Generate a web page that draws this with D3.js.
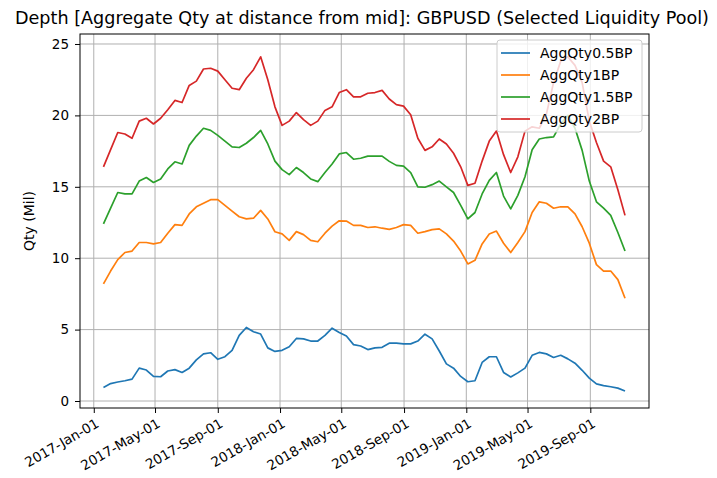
<!DOCTYPE html>
<html>
<head>
<meta charset="utf-8">
<script src="https://cdn.jsdelivr.net/npm/d3@7"></script>
<style>
  body { margin: 0; background: #fff; }
  text { font-family: "DejaVu Sans", sans-serif; fill: #000; }
</style>
</head>
<body>
<div id="chart"></div>
<script>
// samples every 2 weeks, first sample date
var startDate = new Date(2017, 0, 20);
var stepDays = 14;

var seriesNames = ["AggQty0.5BP", "AggQty1BP", "AggQty1.5BP", "AggQty2BP"];
var colors = ["#1f77b4", "#ff7f0e", "#2ca02c", "#d62728"];

var qty05 = [0.95,1.22,1.33,1.42,1.53,2.3,2.17,1.72,1.7,2.1,2.2,2.0,2.3,2.88,3.3,3.38,2.92,3.1,3.55,4.6,
  5.15,4.85,4.69,3.72,3.47,3.55,3.8,4.38,4.35,4.2,4.2,4.6,5.1,4.8,4.55,3.95,3.85,3.6,3.72,3.76,
  4.05,4.05,4.0,4.0,4.2,4.68,4.35,3.5,2.6,2.3,1.72,1.35,1.42,2.7,3.1,3.1,2.0,1.68,1.97,2.3,
  3.2,3.4,3.3,3.05,3.2,2.95,2.65,2.15,1.6,1.2,1.08,1.0,0.9,0.7];

var qty1 = [8.2,9.1,9.9,10.4,10.5,11.1,11.1,11.0,11.1,11.75,12.35,12.3,13.1,13.6,13.85,14.1,14.1,13.7,13.3,12.9,
  12.75,12.8,13.35,12.75,11.85,11.7,11.25,11.86,11.65,11.25,11.15,11.75,12.25,12.62,12.6,12.3,12.3,12.15,12.2,12.1,
  12.02,12.15,12.35,12.3,11.75,11.86,12.0,12.05,11.7,11.2,10.5,9.6,9.85,11.0,11.7,11.9,11.05,10.4,11.1,11.86,
  13.2,13.95,13.85,13.5,13.6,13.6,13.1,12.2,11.05,9.55,9.1,9.1,8.5,7.2];

var qty15 = [12.4,13.5,14.6,14.5,14.5,15.4,15.65,15.3,15.55,16.25,16.75,16.6,17.9,18.55,19.1,18.95,18.6,18.2,17.8,17.75,
  18.05,18.45,18.95,18.0,16.8,16.2,15.85,16.35,16.0,15.55,15.36,16.0,16.6,17.3,17.4,16.93,17.0,17.15,17.15,17.15,
  16.78,16.5,16.45,16.0,15.0,14.97,15.15,15.4,15.0,14.6,13.7,12.75,13.2,14.5,15.45,16.0,14.35,13.45,14.4,15.7,
  17.6,18.35,18.45,18.5,19.4,20.0,19.1,17.55,15.4,13.95,13.5,13.0,11.8,10.5];

var qty2 = [16.4,17.6,18.8,18.7,18.4,19.6,19.8,19.4,19.8,20.4,21.05,20.9,22.1,22.4,23.25,23.3,23.1,22.5,21.9,21.8,
  22.6,23.2,24.1,22.5,20.6,19.3,19.6,20.2,19.7,19.3,19.6,20.35,20.6,21.6,21.8,21.3,21.3,21.55,21.6,21.75,
  21.15,20.75,20.65,20.05,18.4,17.55,17.8,18.35,18.0,17.35,16.4,15.1,15.25,16.8,18.2,18.9,17.25,16.0,17.1,18.9,
  19.2,19.1,20.1,22.3,23.8,24.1,23.5,22.3,19.6,18.1,16.8,16.4,14.8,13.0];

var yTicks = [0, 5, 10, 15, 20, 25];
var xTickDates = ["2017-01-01","2017-05-01","2017-09-01","2018-01-01","2018-05-01","2018-09-01","2019-01-01","2019-05-01","2019-09-01"];

var width = 717, height = 478;
var margin = {top: 34, right: 68, bottom: 70, left: 80};

var svg = d3.select("#chart").append("svg")
    .attr("width", width).attr("height", height);

var x = d3.scaleTime()
    .domain([new Date(2016, 11, 5), new Date(2019, 11, 25)])
    .range([margin.left, width - margin.right]);
var y = d3.scaleLinear()
    .domain([-0.49, 25.7])
    .range([height - margin.bottom, margin.top]);

var dates = qty05.map(function(d, i) { return d3.timeDay.offset(startDate, i * stepDays); });
var allSeries = [qty05, qty1, qty15, qty2];

// grid
var parseDay = d3.timeParse("%Y-%m-%d");
var xt = xTickDates.map(parseDay);
svg.append("g").selectAll("line").data(xt).enter().append("line")
    .attr("x1", function(d) { return x(d); }).attr("x2", function(d) { return x(d); })
    .attr("y1", margin.top).attr("y2", height - margin.bottom)
    .style("stroke", "#b0b0b0").style("stroke-width", 1);
svg.append("g").selectAll("line").data(yTicks).enter().append("line")
    .attr("x1", margin.left).attr("x2", width - margin.right)
    .attr("y1", function(d) { return y(d); }).attr("y2", function(d) { return y(d); })
    .style("stroke", "#b0b0b0").style("stroke-width", 1);

// lines
var line = d3.line()
    .x(function(d, i) { return x(dates[i]); })
    .y(function(d) { return y(d); });

svg.append("g").selectAll("path").data(allSeries).enter().append("path")
    .attr("d", line)
    .style("fill", "none")
    .style("stroke", function(d, i) { return colors[i]; })
    .style("stroke-width", 1.7)
    .style("stroke-linejoin", "round");

// axes
var xAxis = svg.append("g")
    .attr("transform", "translate(0," + (height - margin.bottom) + ")")
    .call(d3.axisBottom(x).tickValues(xt).tickSize(5).tickPadding(5).tickFormat(d3.timeFormat("%Y-%b-%d")));
xAxis.select(".domain").remove();
xAxis.selectAll("text")
    .style("font-size", "13.5px")
    .style("text-anchor", "end")
    .attr("x", 1)
    .attr("dy", "0.7em")
    .attr("transform", function() { return "rotate(-30, 1, " + d3.select(this).attr("y") + ")"; });

var yAxis = svg.append("g")
    .attr("transform", "translate(" + margin.left + ",0)")
    .call(d3.axisLeft(y).tickValues(yTicks).tickSize(5).tickPadding(6));
yAxis.select(".domain").remove();
yAxis.selectAll("text").style("font-size", "13.5px");

svg.append("rect")
    .attr("x", margin.left).attr("y", margin.top)
    .attr("width", width - margin.left - margin.right)
    .attr("height", height - margin.top - margin.bottom)
    .style("fill", "none").style("stroke", "#000").style("stroke-width", 1);

// labels
svg.append("text")
    .attr("x", 362)
    .attr("y", 24)
    .style("text-anchor", "middle")
    .style("font-size", "17.6px")
    .text("Depth [Aggregate Qty at distance from mid]: GBPUSD (Selected Liquidity Pool)");

svg.append("text")
    .attr("transform", "translate(34," + ((margin.top + height - margin.bottom) / 2) + ") rotate(-90)")
    .style("text-anchor", "middle")
    .style("font-size", "14px")
    .text("Qty (Mil)");

// legend
var legend = svg.append("g").attr("transform", "translate(497,40)");
legend.append("rect")
    .attr("width", 145).attr("height", 92).attr("rx", 3)
    .style("fill", "#fff").style("fill-opacity", 0.8)
    .style("stroke", "#cccccc").style("stroke-width", 1);
var items = legend.selectAll(".item").data(seriesNames).enter().append("g")
    .attr("class", "item")
    .attr("transform", function(d, i) { return "translate(0," + (13 + i * 22) + ")"; });
items.append("line")
    .attr("x1", 4).attr("x2", 33)
    .style("stroke", function(d, i) { return colors[i]; })
    .style("stroke-width", 1.7);
items.append("text")
    .attr("x", 43).attr("dy", "0.35em")
    .style("font-size", "14px")
    .text(function(d) { return d; });
</script>
</body>
</html>
